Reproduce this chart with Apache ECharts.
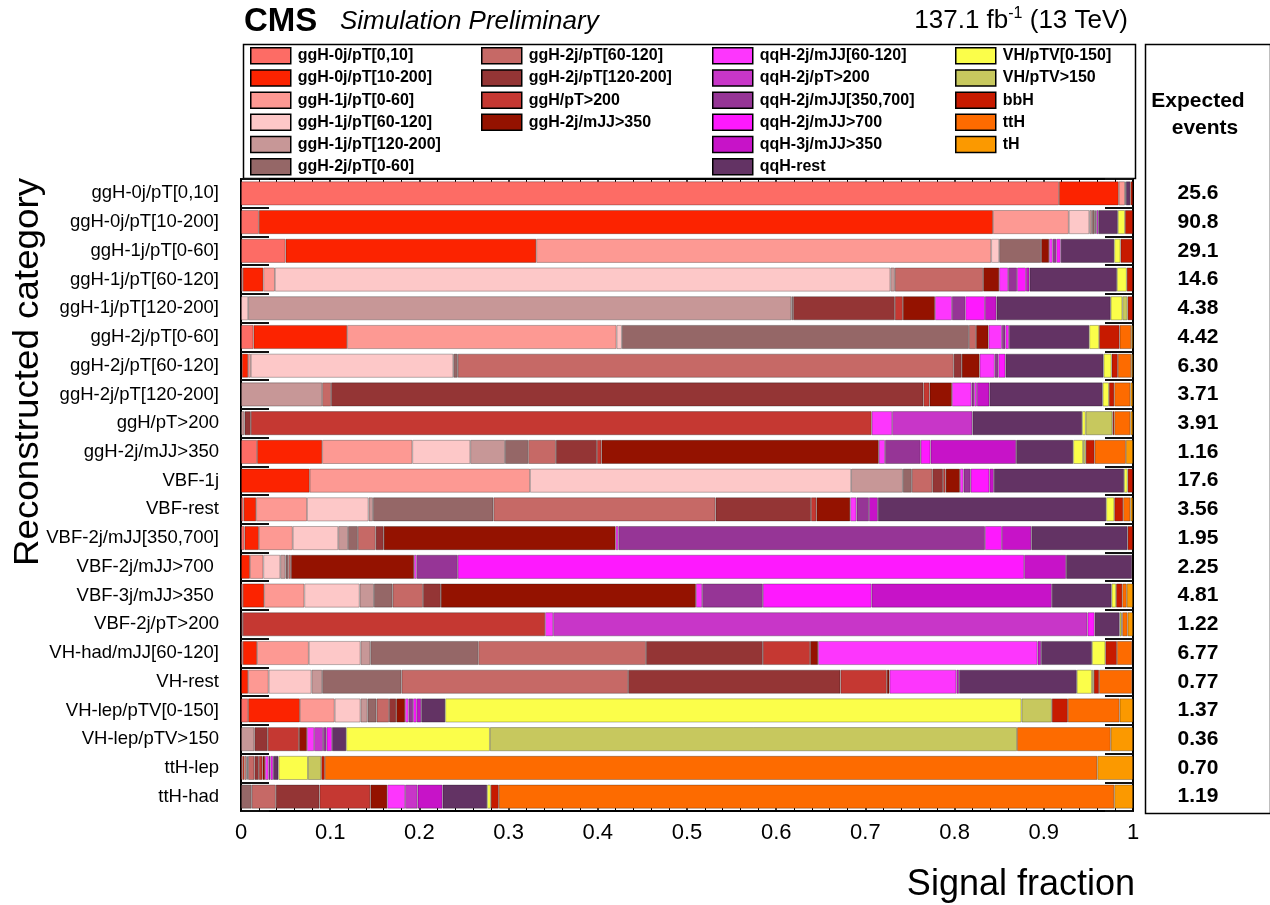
<!DOCTYPE html>
<html><head><meta charset="utf-8">
<script src="https://cdn.jsdelivr.net/npm/echarts@6/dist/echarts.min.js"></script>
<style>html,body{margin:0;padding:0;background:#fff}#c{width:1270px;height:905px}</style>
</head><body><div id="c"></div><script>
// Reconstructed categories (rows, top to bottom)
const categories = ['ggH-0j/pT[0,10]','ggH-0j/pT[10-200]','ggH-1j/pT[0-60]','ggH-1j/pT[60-120]','ggH-1j/pT[120-200]','ggH-2j/pT[0-60]','ggH-2j/pT[60-120]','ggH-2j/pT[120-200]','ggH/pT>200','ggH-2j/mJJ>350','VBF-1j','VBF-rest','VBF-2j/mJJ[350,700]','VBF-2j/mJJ>700 ','VBF-3j/mJJ>350 ','VBF-2j/pT>200','VH-had/mJJ[60-120]','VH-rest','VH-lep/pTV[0-150]','VH-lep/pTV>150','ttH-lep','ttH-had'];
// Signal processes (stack order)
const processes = ['ggH-0j/pT[0,10]','ggH-0j/pT[10-200]','ggH-1j/pT[0-60]','ggH-1j/pT[60-120]','ggH-1j/pT[120-200]','ggH-2j/pT[0-60]','ggH-2j/pT[60-120]','ggH-2j/pT[120-200]','ggH/pT>200','ggH-2j/mJJ>350','qqH-2j/mJJ[60-120]','qqH-2j/pT>200','qqH-2j/mJJ[350,700]','qqH-2j/mJJ>700','qqH-3j/mJJ>350','qqH-rest','VH/pTV[0-150]','VH/pTV>150','bbH','ttH','tH'];
const processColors = ['#FD6C65','#FC2300','#FD9993','#FDC8C8','#C79797','#956767','#C66966','#943535','#C53832','#941200','#FD36FD','#C836C8','#963596','#FE19FE','#C713C8','#633364','#FBFE4A','#C7C85E','#C71A00','#FD6B00','#FB9900'];
const expectedEvents = ['25.6','90.8','29.1','14.6','4.38','4.42','6.30','3.71','3.91','1.16','17.6','3.56','1.95','2.25','4.81','1.22','6.77','0.77','1.37','0.36','0.70','1.19'];

// Signal fraction of each process in each reconstructed category (one array per row)
const row_ggH0j_0_10    = [0.917,0.067,0.007,0.001,0,0,0,0,0,0,0,0,0,0,0,0.005,0,0,0.003,0,0];
const row_ggH0j_10_200  = [0.020,0.823,0.085,0.023,0.003,0.003,0.001,0,0,0.001,0,0,0,0.002,0,0.022,0.008,0,0.009,0,0];
const row_ggH1j_0_60    = [0.050,0.281,0.510,0.009,0,0.047,0,0,0,0.009,0.004,0,0.004,0.005,0,0.060,0.007,0,0.014,0,0];
const row_ggH1j_60_120  = [0.002,0.023,0.013,0.690,0.005,0,0.099,0,0,0.018,0.010,0,0.010,0.010,0.004,0.098,0.011,0,0.007,0,0];
const row_ggH1j_120_200 = [0,0,0,0.008,0.609,0.002,0,0.114,0.009,0.036,0.019,0,0.015,0.022,0.013,0.128,0.013,0.006,0.006,0,0];
const row_ggH2j_0_60    = [0.014,0.105,0.302,0.006,0,0.389,0.008,0,0,0.014,0.015,0,0.004,0.004,0,0.090,0.011,0,0.023,0.013,0.002];
const row_ggH2j_60_120  = [0.001,0.007,0.003,0.227,0,0.005,0.556,0.009,0,0.020,0.017,0,0.004,0.008,0,0.110,0.009,0,0.007,0.015,0.002];
const row_ggH2j_120_200 = [0,0,0,0,0.091,0,0.010,0.664,0.007,0.025,0.022,0,0.003,0.003,0.014,0.127,0.007,0,0.006,0.018,0.003];
const row_ggH_pT200     = [0,0,0,0,0.004,0,0,0.007,0.696,0,0.023,0.090,0,0,0,0.123,0.004,0.030,0.002,0.018,0.003];
const row_ggH2j_mJJ350  = [0.018,0.073,0.101,0.065,0.039,0.026,0.031,0.046,0.005,0.311,0.007,0,0.040,0.011,0.096,0.064,0.011,0.003,0.010,0.035,0.008];
const row_VBF1j         = [0,0.077,0.247,0.360,0.058,0.010,0.023,0.012,0.003,0.016,0.004,0,0.008,0.021,0.005,0.146,0.004,0,0.006,0,0];
const row_VBFrest       = [0.003,0.014,0.057,0.069,0.005,0.135,0.249,0.107,0.006,0.038,0.007,0,0.014,0,0.010,0.256,0.009,0,0.010,0.008,0.003];
const row_VBF2j_350_700 = [0.004,0.016,0.038,0.051,0.011,0.011,0.020,0.009,0,0.260,0.003,0,0.411,0.019,0.033,0.108,0,0,0.006,0,0];
const row_VBF2j_700     = [0,0.010,0.015,0.019,0.006,0.003,0.003,0,0,0.138,0.003,0,0.046,0.635,0.047,0.074,0,0,0.001,0,0];
const row_VBF3j_350     = [0.002,0.024,0.045,0.062,0.016,0.021,0.034,0.020,0,0.286,0.007,0,0.068,0.122,0.202,0.067,0.005,0,0.007,0.005,0.007];
const row_VBF2j_pT200   = [0,0,0,0,0,0,0,0.002,0.339,0,0.009,0.599,0,0.008,0,0.028,0.002,0.001,0,0.006,0.006];
const row_VHhad         = [0.002,0.016,0.058,0.058,0.011,0.121,0.188,0.131,0.053,0.009,0.246,0,0,0,0.004,0.057,0.015,0,0.013,0.017,0.001];
const row_VHrest        = [0,0.008,0.023,0.048,0.012,0.089,0.254,0.238,0.052,0.003,0.075,0,0,0,0.003,0.132,0.017,0.002,0.006,0.037,0.001];
const row_VHlep_0_150   = [0.008,0.058,0.039,0.029,0.008,0.010,0.014,0.008,0,0.010,0.004,0,0.005,0.004,0.005,0.027,0.646,0.034,0.018,0.058,0.015];
const row_VHlep_150     = [0,0,0,0,0.015,0,0,0.015,0.035,0.009,0.008,0.010,0.004,0.006,0,0.016,0.161,0.591,0,0.105,0.025];
const row_ttHlep        = [0.002,0.002,0.002,0.001,0.001,0,0.007,0.005,0.004,0.003,0.004,0,0.002,0.003,0,0.006,0.033,0.015,0.004,0.866,0.040];
const row_ttHhad        = [0,0,0,0,0,0.012,0.027,0.049,0.057,0.019,0.020,0.014,0,0,0.028,0.050,0.004,0,0.009,0.690,0.021];

const rows = [row_ggH0j_0_10,row_ggH0j_10_200,row_ggH1j_0_60,row_ggH1j_60_120,row_ggH1j_120_200,row_ggH2j_0_60,row_ggH2j_60_120,row_ggH2j_120_200,row_ggH_pT200,row_ggH2j_mJJ350,row_VBF1j,row_VBFrest,row_VBF2j_350_700,row_VBF2j_700,row_VBF3j_350,row_VBF2j_pT200,row_VHhad,row_VHrest,row_VHlep_0_150,row_VHlep_150,row_ttHlep,row_ttHhad];

const FONT = '"Liberation Sans", Arial, Helvetica, sans-serif';
const chart = echarts.init(document.getElementById('c'), null, {renderer: 'canvas'});

const series = processes.map((p, j) => ({
  name: p, type: 'bar', stack: 'frac', barWidth: 24,
  xAxisIndex: 0, yAxisIndex: 0,
  itemStyle: {color: processColors[j], borderColor: 'rgba(0,0,0,0.35)', borderWidth: 0.8},
  emphasis: {disabled: true},
  data: rows.map(r => r[j] > 0 ? r[j] : '-')
}));

const legendCols = [[0,6,250],[6,10,481],[10,16,712],[16,21,955]];
const legends = legendCols.map(([a,b,x]) => ({
  orient: 'vertical', left: x, top: 47, itemWidth: 40, itemHeight: 16, itemGap: 4.7,
  selectedMode: false, icon: 'rect', padding: 0,
  itemStyle: {borderColor: '#000', borderWidth: 1.5},
  textStyle: {fontFamily: FONT, fontWeight: 'bold', fontSize: 16, lineHeight: 16, color: '#000', padding: [0,0,0,2]},
  data: processes.slice(a, b)
}));

const axisLineStyle = {show: true, onZero: false, lineStyle: {color: '#000', width: 2}};
chart.setOption({
  animation: false,
  backgroundColor: '#fff',
  grid: {left: 241, right: 137, top: 179, bottom: 94, containLabel: false},
  legend: legends,
  xAxis: [
    {type: 'value', position: 'bottom', min: 0, max: 1, interval: 0.1,
     axisLine: axisLineStyle,
     axisTick: {show: true, inside: true, length: 7, lineStyle: {color: '#000', width: 1.5}},
     minorTick: {show: true, splitNumber: 5, length: 3.5, lineStyle: {color: '#000', width: 1}},
     axisLabel: {fontFamily: FONT, fontSize: 22, color: '#000', margin: 11},
     splitLine: {show: false}},
    {type: 'value', position: 'top', min: 0, max: 1, interval: 0.1,
     axisLine: axisLineStyle,
     axisTick: {show: true, inside: true, length: 7, lineStyle: {color: '#000', width: 1.5}},
     minorTick: {show: true, splitNumber: 5, length: 3.5, lineStyle: {color: '#000', width: 1}},
     axisLabel: {show: false}, splitLine: {show: false}}
  ],
  yAxis: [
    {type: 'category', position: 'left', inverse: true, data: categories,
     axisLine: axisLineStyle,
     axisTick: {show: true, inside: true, length: 28, lineStyle: {color: '#111', width: 2}},
     axisLabel: {fontFamily: FONT, fontSize: 18.5, color: '#000', margin: 22}},
    {type: 'category', position: 'right', inverse: true, data: categories,
     axisLine: axisLineStyle,
     axisTick: {show: true, inside: true, length: 28, lineStyle: {color: '#111', width: 2}},
     axisLabel: {fontFamily: FONT, fontSize: 21, fontWeight: 'bold', color: '#000', margin: 65, align: 'center',
                 formatter: (v, i) => expectedEvents[i]}}
  ],
  series: series,
  graphic: [
    {type: 'rect', left: 241, top: 42, shape: {width: 892, height: 134}, z: -1,
     style: {fill: 'none', stroke: '#000', lineWidth: 1.5}},
    {type: 'rect', left: 1143, top: 42, shape: {width: 125, height: 769}, z: -1,
     style: {fill: 'none', stroke: '#000', lineWidth: 1.5}},
    {type: 'text', x: 1198, y: 101, style: {text: 'Expected', font: 'bold 21px ' + FONT, fill: '#000', align: 'center', verticalAlign: 'middle'}},
    {type: 'text', x: 1205, y: 128, style: {text: 'events', font: 'bold 21px ' + FONT, fill: '#000', align: 'center', verticalAlign: 'middle'}},
    {type: 'text', left: 244, top: 5, style: {text: 'CMS', font: 'bold 33px ' + FONT, fill: '#000'}},
    {type: 'text', left: 340, top: 9, style: {text: 'Simulation Preliminary', font: 'italic 26px ' + FONT, fill: '#000'}},
    {type: 'text', right: 142, top: 6, style: {text: '137.1 fb{s|-1} (13 TeV)', font: '26px ' + FONT, fill: '#000',
      rich: {s: {fontSize: 16, fontFamily: FONT, padding: [0,0,13,0], verticalAlign: 'top'}}}},
    {type: 'text', x: 28, y: 372, rotation: Math.PI/2, scaleX: 1.05,
     style: {text: 'Reconstructed category', font: '35px ' + FONT, fill: '#000', align: 'center', verticalAlign: 'middle'}},
    {type: 'text', x: 1135, y: 885, style: {text: 'Signal fraction', font: '36px ' + FONT, fill: '#000', align: 'right', verticalAlign: 'middle'}}
  ]
});
</script></body></html>
